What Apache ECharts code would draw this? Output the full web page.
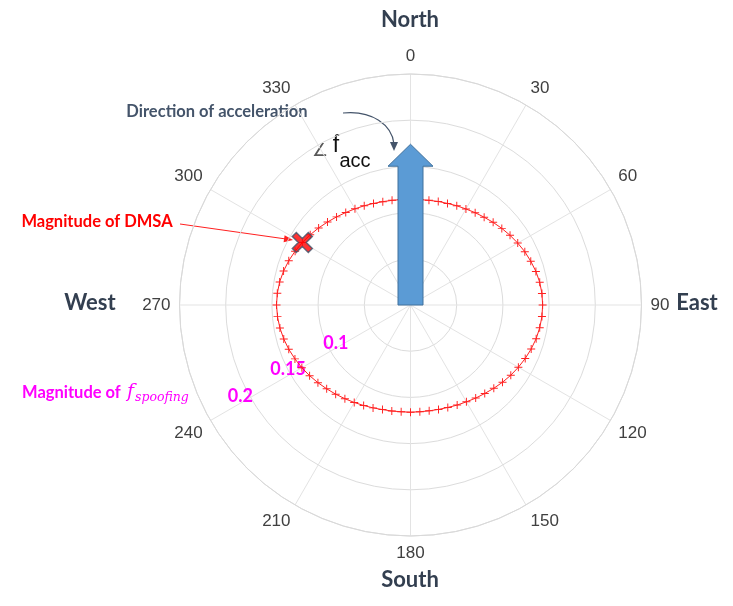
<!DOCTYPE html>
<html><head><meta charset="utf-8">
<script src="https://cdn.jsdelivr.net/npm/echarts@6/dist/echarts.min.js"></script>
<style>html,body{margin:0;padding:0;background:#fff}#c{width:733px;height:606px}</style>
</head><body><div id="c"></div>
<script>
// Direction angles (degrees, clockwise from North) of the DMSA magnitude trace
const dmsaAngles = [0,5,10,15,20,25,30,35,40,45,50,55,60,65,70,75,80,85,
  90,95,100,105,110,115,120,125,130,135,140,145,150,155,160,165,170,175,
  180,185,190,195,200,205,210,215,220,225,230,235,240,245,250,255,260,265,
  270,275,280,285,290,295,300,305,310,315,320,325,330,335,340,345,350,355];
// Magnitude of f_spoofing (radius) read at each angle
const dmsaMagnitudes = [0.114,0.1145,0.115,0.116,0.117,0.1185,0.120,0.122,0.124,0.1265,0.129,0.1315,0.134,0.1365,0.1385,0.1405,0.142,0.1428,
  0.143,0.1428,0.142,0.1408,0.139,0.137,0.1348,0.1325,0.130,0.1275,0.125,0.123,0.121,0.1195,0.118,0.117,0.1163,0.116,
  0.116,0.116,0.1165,0.1172,0.1185,0.120,0.1218,0.1238,0.126,0.1283,0.1308,0.1333,0.1358,0.138,0.1402,0.142,0.1435,0.1445,
  0.145,0.1447,0.1438,0.1422,0.1402,0.1378,0.1352,0.1325,0.1298,0.127,0.1245,0.1222,0.1202,0.1185,0.117,0.1158,0.115,0.1145];
// Magnitude of DMSA marker: [radius, angle]
const dmsaPoint = [0.1352, 300];
// Direction of acceleration arrow: [length, angle]
const accArrow = [0.174, 0];
// Radius tick labels shown
const radiusTickLabels = ['0.1', '0.15', '0.2'];

const lineData = dmsaAngles.map((a, i) => [dmsaMagnitudes[i], a]);
lineData.push([dmsaMagnitudes[0], 360]);

const CX = 410.5, CY = 305, R = 231;
const chart = echarts.init(document.getElementById('c'));
const plusPath = 'path://M4.4,0 H5.6 V4.4 H10 V5.6 H5.6 V10 H4.4 V5.6 H0 V4.4 H4.4 Z';
const xPath = 'path://M2,0 L5,3 L8,0 L10,2 L7,5 L10,8 L8,10 L5,7 L2,10 L0,8 L3,5 L0,2 Z';
const magenta = '#ff00ff';
const rLabelStyle = {color: magenta, fontWeight: 'bold', fontSize: 18, fontFamily: 'Lato'};

chart.setOption({
  animation: false,
  backgroundColor: '#fff',
  polar: [{center: [CX, CY], radius: R}, {center: [CX, CY], radius: R}],
  angleAxis: [{
    polarIndex: 0, type: 'value', min: 0, max: 360, interval: 30,
    startAngle: 90, clockwise: true,
    axisLine: {lineStyle: {color: '#d9d9d9', width: 1}},
    axisTick: {show: false},
    axisLabel: {color: '#404040', fontSize: 17, fontFamily: 'Liberation Sans', margin: 9},
    splitLine: {lineStyle: {color: '#e3e3e3', width: 1}}
  }, {
    polarIndex: 1, type: 'value', min: 0, max: 360, startAngle: 208, show: false
  }],
  radiusAxis: [{
    polarIndex: 0, min: 0, max: 0.25, interval: 0.05,
    axisLine: {show: false}, axisTick: {show: false}, axisLabel: {show: false},
    splitLine: {lineStyle: {color: '#dcdcdc', width: 1}}
  }, {
    polarIndex: 1, min: 0, max: 0.25, interval: 0.05,
    axisLine: {show: false}, axisTick: {show: false}, splitLine: {show: false},
    axisLabel: {
      margin: 0, align: 'center', verticalAlign: 'middle',
      formatter: v => {
        const s = String(+(+v).toFixed(2));
        const i = radiusTickLabels.indexOf(s);
        return i < 0 ? '' : '{t' + i + '|' + s + '}';
      },
      rich: {
        t0: Object.assign({padding: [0, 0, 10, 14]}, rLabelStyle),
        t1: Object.assign({padding: [0, 0, 2, 0]}, rLabelStyle),
        t2: Object.assign({padding: [8, 14, 0, 0]}, rLabelStyle)
      }
    }
  }],
  series: [{
    type: 'line', coordinateSystem: 'polar', polarIndex: 0,
    data: lineData, symbol: plusPath, symbolSize: 8, showAllSymbol: true,
    lineStyle: {color: '#ff2020', width: 1},
    itemStyle: {color: '#ff2020'}, z: 3
  }, {
    type: 'custom', coordinateSystem: 'polar', polarIndex: 0,
    data: [accArrow], z: 4,
    renderItem: (params, api) => {
      const r = api.value(0), ang = api.value(1);
      const c0 = api.coord([0, ang]), c1 = api.coord([r, ang]);
      const dx = c1[0] - c0[0], dy = c1[1] - c0[1];
      const len = Math.hypot(dx, dy), ux = dx / len, uy = dy / len;
      const px = -uy, py = ux;
      const sw = 12.5, hw = 22.5, hl = 22;
      const b = [c1[0] - ux * hl, c1[1] - uy * hl];
      const pts = [
        [c0[0] + px * sw, c0[1] + py * sw],
        [b[0] + px * sw, b[1] + py * sw],
        [b[0] + px * hw, b[1] + py * hw],
        c1,
        [b[0] - px * hw, b[1] - py * hw],
        [b[0] - px * sw, b[1] - py * sw],
        [c0[0] - px * sw, c0[1] - py * sw]
      ];
      return {type: 'polygon', shape: {points: pts}, style: {fill: '#5b9bd5', stroke: '#41719c', lineWidth: 1}};
    }
  }, {
    type: 'scatter', coordinateSystem: 'polar', polarIndex: 0,
    data: [dmsaPoint], symbol: xPath, symbolSize: 20,
    itemStyle: {color: '#ff0000', borderColor: '#44546a', borderWidth: 1.5}, z: 5
  }],
  graphic: [
    {type: 'text', x: 410, y: 20, style: {text: 'North', font: 'bold 22px Lato', fill: '#333f50', textAlign: 'center', textVerticalAlign: 'middle'}},
    {type: 'text', x: 410, y: 580, style: {text: 'South', font: 'bold 22px Lato', fill: '#333f50', textAlign: 'center', textVerticalAlign: 'middle'}},
    {type: 'text', x: 90, y: 303, style: {text: 'West', font: 'bold 22px Lato', fill: '#333f50', textAlign: 'center', textVerticalAlign: 'middle'}},
    {type: 'text', x: 697, y: 303, style: {text: 'East', font: 'bold 22px Lato', fill: '#333f50', textAlign: 'center', textVerticalAlign: 'middle'}},
    {type: 'text', x: 217, y: 112, style: {text: 'Direction of acceleration', font: 'bold 16.5px Lato', fill: '#44546a', textAlign: 'center', textVerticalAlign: 'middle'}},
    {type: 'bezierCurve', shape: {x1: 343, y1: 113, cpx1: 372, cpy1: 110, cpx2: 392, cpy2: 125, x2: 394, y2: 144}, style: {stroke: '#44546a', lineWidth: 1.2, fill: null}},
    {type: 'polygon', shape: {points: [[390, 142], [398, 142], [394, 151]]}, style: {fill: '#44546a'}},
    {type: 'text', x: 320, y: 151, style: {text: '∠', font: '18px "DejaVu Sans"', fill: '#595959', textAlign: 'center', textVerticalAlign: 'middle'}},
    {type: 'text', x: 336, y: 146, style: {text: 'f', font: '23px "Liberation Sans"', fill: '#111', textAlign: 'center', textVerticalAlign: 'middle'}},
    {type: 'text', x: 355, y: 161, style: {text: 'acc', font: '20px "Liberation Sans"', fill: '#111', textAlign: 'center', textVerticalAlign: 'middle'}},
    {type: 'text', x: 97, y: 222, style: {text: 'Magnitude of DMSA', font: 'bold 16.5px Lato', fill: '#ff0000', textAlign: 'center', textVerticalAlign: 'middle'}},
    {type: 'line', shape: {x1: 180, y1: 224, x2: 286, y2: 239}, style: {stroke: '#ff2020', lineWidth: 1}},
    {type: 'polygon', shape: {points: [[284.6, 235.2], [283.6, 242.2], [293, 240]]}, style: {fill: '#ff2020'}},
    {type: 'text', x: 22, y: 393, style: {text: 'Magnitude of ', font: 'bold 16.5px Lato', fill: magenta, textAlign: 'left', textVerticalAlign: 'middle'}},
    {type: 'text', x: 127, y: 392, style: {text: 'f', font: 'italic 19px "DejaVu Serif"', fill: magenta, textAlign: 'left', textVerticalAlign: 'middle'}},
    {type: 'text', x: 135, y: 398, style: {text: 'spoofing', font: 'italic 12.5px "DejaVu Serif"', fill: magenta, textAlign: 'left', textVerticalAlign: 'middle'}}
  ]
});
</script>
</body></html>
